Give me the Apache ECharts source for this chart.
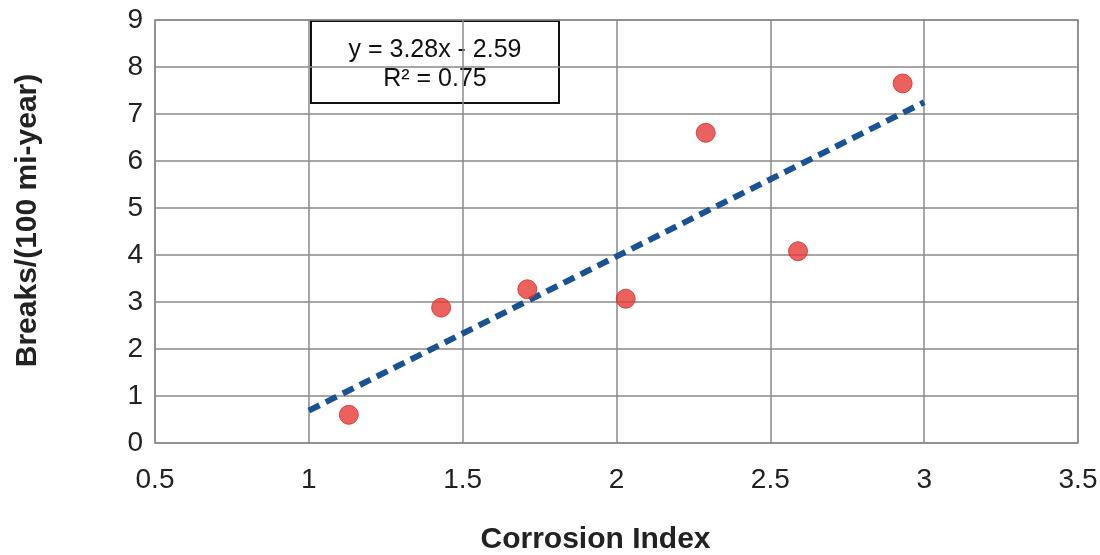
<!DOCTYPE html>
<html>
<head>
<meta charset="utf-8">
<script src="https://cdn.jsdelivr.net/npm/echarts@6/dist/echarts.min.js"></script>
<style>html,body{margin:0;padding:0;background:#fff}#c{width:1100px;height:555px}</style>
</head>
<body>
<div id="c"></div>
<script>
const corrosionIndex = [1.13, 1.43, 1.71, 2.03, 2.29, 2.59, 2.93];
const breaks = [0.6, 2.88, 3.27, 3.07, 6.6, 4.08, 7.65];
const trendX = [1, 3];
const trendY = [0.69, 7.25];
const xAxisName = 'Corrosion Index';
const yAxisName = 'Breaks/(100 mi-year)';
const equationLines = ['y = 3.28x - 2.59', 'R² = 0.75'];

const chart = echarts.init(document.getElementById('c'), null, {renderer: 'canvas'});
const font = 'Liberation Sans, Arial, sans-serif';
chart.setOption({
  animation: false,
  backgroundColor: '#fff',
  grid: {left: 155, right: 22, top: 20, bottom: 112, show: true, borderColor: '#8a8a8a', borderWidth: 1.5,
         containLabel: false, outerBoundsMode: 'none'},
  xAxis: {
    type: 'value', min: 0.5, max: 3.5, interval: 0.5,
    name: xAxisName, nameLocation: 'middle', nameGap: 82,
    nameTextStyle: {fontFamily: font, fontSize: 30, fontWeight: 'bold', color: '#222', padding: [0, 42, 0, 0]},
    axisLine: {show: false}, axisTick: {show: false},
    axisLabel: {fontFamily: font, fontSize: 28, color: '#222', margin: 23},
    splitLine: {show: true, lineStyle: {color: '#8a8a8a', width: 1.5}}
  },
  yAxis: {
    type: 'value', min: 0, max: 9, interval: 1,
    name: yAxisName, nameLocation: 'middle', nameGap: 112,
    nameTextStyle: {fontFamily: font, fontSize: 30, fontWeight: 'bold', color: '#222', padding: [0, 0, 0, 22]},
    axisLine: {show: false}, axisTick: {show: false},
    axisLabel: {fontFamily: font, fontSize: 28, color: '#222', margin: 12},
    splitLine: {show: true, lineStyle: {color: '#8a8a8a', width: 1.5}}
  },
  series: [
    {
      type: 'line',
      data: trendX.map((x, i) => [x, trendY[i]]),
      symbol: 'none',
      lineStyle: {color: '#1a5394', width: 6, type: [12, 7]},
      z: 2
    },
    {
      type: 'scatter',
      data: corrosionIndex.map((x, i) => [x, breaks[i]]),
      symbolSize: 19,
      itemStyle: {color: '#e63a36', borderColor: '#d42a27', borderWidth: 1},
      z: 3
    }
  ],
  graphic: [
    {
      type: 'group', left: 310, top: 20,
      children: [
        {type: 'rect', shape: {x: 0, y: 0, width: 248, height: 82}, style: {fill: '#fff', stroke: '#111', lineWidth: 2}},
        {type: 'text', style: {x: 124, y: 29, text: equationLines[0], fontFamily: font, fontSize: 25, fill: '#111', align: 'center', verticalAlign: 'middle'}},
        {type: 'text', style: {x: 124, y: 58, text: equationLines[1], fontFamily: font, fontSize: 25, fill: '#111', align: 'center', verticalAlign: 'middle'}}
      ]
    }
  ]
});
</script>
</body>
</html>
